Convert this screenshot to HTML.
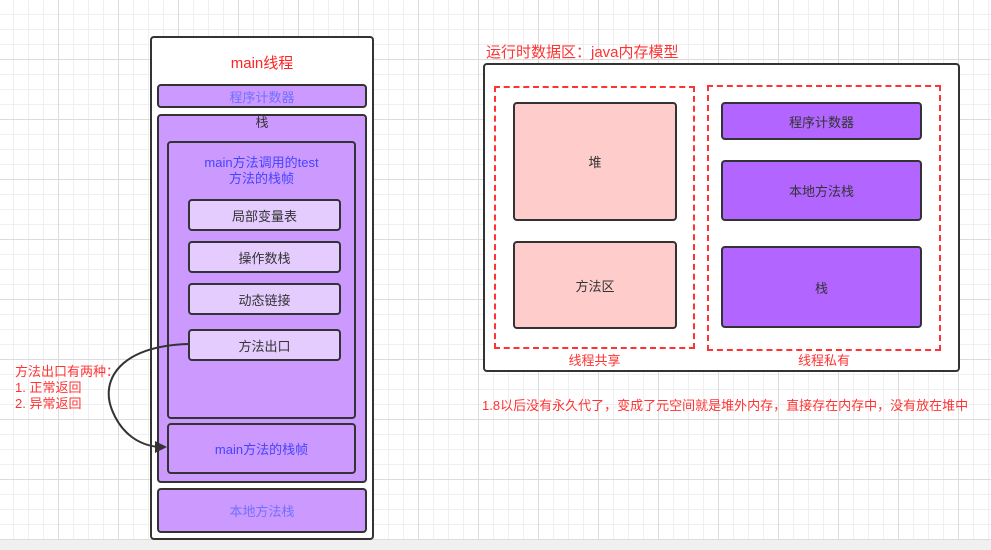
<!DOCTYPE html>
<html><head><meta charset="utf-8"><style>
html,body{margin:0;padding:0}
body{width:991px;height:550px;position:relative;overflow:hidden;font-family:"Liberation Sans","Noto Sans CJK SC",sans-serif;
background-color:#fff;
background-image:linear-gradient(#dcdcdc 1px,transparent 1px),linear-gradient(90deg,#dcdcdc 1px,transparent 1px),linear-gradient(#efefef 1px,transparent 1px),linear-gradient(90deg,#efefef 1px,transparent 1px);
background-size:60px 60px,60px 60px,15px 15px,15px 15px;
background-position:-2px -1px,-2px -1px,-2px -1px,-2px -1px;}
.b{position:absolute;box-sizing:border-box;border:2px solid #333;border-radius:4px;display:flex;align-items:center;justify-content:center;text-align:center;font-size:13px;color:#333}
.t{position:absolute;white-space:nowrap}
.d{position:absolute;box-sizing:border-box;border:2px dashed #ff3333}
</style></head><body>
<div class="b" style="left:150px;top:36px;width:224px;height:504px;background:#fff"></div>
<div class="t" style="left:150px;width:224px;text-align:center;top:52px;color:#ff2222;font-size:15px">main线程</div>
<div class="b" style="left:157px;top:84px;width:210px;height:24px;background:#cc99ff;color:#7070ff">程序计数器</div>
<div class="b" style="left:157px;top:114px;width:210px;height:369px;background:#cc99ff;align-items:flex-start;line-height:14px">栈</div>
<div class="b" style="left:167px;top:141px;width:189px;height:278px;background:#cc99ff;align-items:flex-start;color:#4444ff;padding-top:12px;line-height:16px">main方法调用的test<br>方法的栈帧</div>
<div class="b" style="left:188px;top:199px;width:153px;height:32px;background:#e5ccff">局部变量表</div>
<div class="b" style="left:188px;top:241px;width:153px;height:32px;background:#e5ccff">操作数栈</div>
<div class="b" style="left:188px;top:283px;width:153px;height:32px;background:#e5ccff">动态链接</div>
<div class="b" style="left:188px;top:329px;width:153px;height:32px;background:#e5ccff">方法出口</div>
<div class="b" style="left:167px;top:423px;width:189px;height:51px;background:#cc99ff;color:#4444ff">main方法的栈帧</div>
<div class="b" style="left:157px;top:488px;width:210px;height:45px;background:#cc99ff;color:#7070ff">本地方法栈</div>
<div class="t" style="left:15px;top:364px;color:#ff3333;font-size:13px;line-height:16px">方法出口有两种：<br>1. 正常返回<br>2. 异常返回</div>
<svg style="position:absolute;left:0;top:0" width="991" height="550">
<path d="M188,344 C120,346 100,380 112,410 C122,435 140,445 158,447" fill="none" stroke="#333" stroke-width="2"/>
<polygon points="167,447 155,441 155,453" fill="#333"/>
</svg>
<div class="t" style="left:486px;top:41px;color:#ff3333;font-size:15px">运行时数据区：java内存模型</div>
<div class="b" style="left:483px;top:63px;width:477px;height:309px;background:#fff"></div>
<div class="d" style="left:494px;top:86px;width:201px;height:263px"></div>
<div class="d" style="left:707px;top:85px;width:234px;height:266px"></div>
<div class="b" style="left:513px;top:102px;width:164px;height:119px;background:#ffcccc">堆</div>
<div class="b" style="left:513px;top:241px;width:164px;height:88px;background:#ffcccc">方法区</div>
<div class="b" style="left:721px;top:102px;width:201px;height:38px;background:#b266ff">程序计数器</div>
<div class="b" style="left:721px;top:160px;width:201px;height:61px;background:#b266ff">本地方法栈</div>
<div class="b" style="left:721px;top:246px;width:201px;height:82px;background:#b266ff">栈</div>
<div class="t" style="left:494px;width:201px;text-align:center;top:350px;color:#ff3333;font-size:13px">线程共享</div>
<div class="t" style="left:707px;width:234px;text-align:center;top:350px;color:#ff3333;font-size:13px">线程私有</div>
<div class="t" style="left:482px;top:395px;color:#ff3333;font-size:13px">1.8以后没有永久代了，变成了元空间就是堆外内存，直接存在内存中，没有放在堆中</div>
<div style="position:absolute;left:0;top:540px;width:991px;height:10px;background:#f0f0f0"></div>
</body></html>
